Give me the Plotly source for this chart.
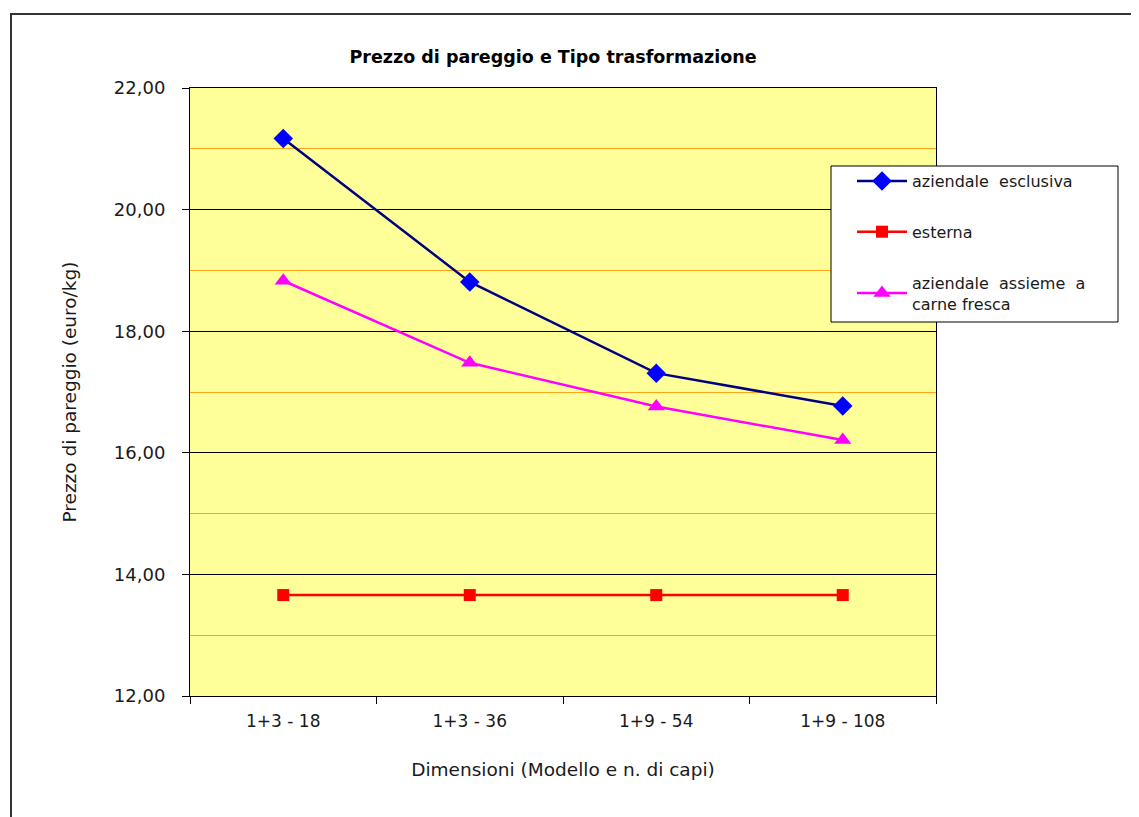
import plotly.graph_objects as go

categories = ["1+3 - 18", "1+3 - 36", "1+9 - 54", "1+9 - 108"]
aziendale_esclusiva = [21.17, 18.81, 17.31, 16.77]
esterna = [13.66, 13.66, 13.66, 13.66]
aziendale_carne_fresca = [18.83, 17.48, 16.76, 16.21]

# page is offset by the default 8px body margin
OFF = 8
W, H = 1139 - OFF, 817 - OFF
L, R, T, B = 190, 936, 88, 696          # page coords of plot area
pw, ph = R - L, B - T

def px(x):
    return (x - L) / pw

def py(y):
    return (B - y) / ph

FONT = "DejaVu Sans, Verdana, sans-serif"
TXT = "#1a1a1a"

fig = go.Figure()
fig.add_trace(go.Scatter(
    x=categories, y=aziendale_esclusiva, mode="lines+markers",
    name="aziendale\u00a0\u00a0esclusiva", legendgroup="a",
    line=dict(color="#000080", width=2.5),
    marker=dict(symbol="diamond", size=15, color="#0000FF"),
))
fig.add_trace(go.Scatter(
    x=categories, y=esterna, mode="lines+markers",
    name="esterna", legendgroup="b",
    line=dict(color="#FF0000", width=2.5),
    marker=dict(symbol="square", size=12, color="#FF0000"),
))
fig.add_trace(go.Scatter(
    x=categories, y=aziendale_carne_fresca, mode="lines+markers",
    name="aziendale\u00a0\u00a0assieme\u00a0\u00a0a<br>carne fresca", legendgroup="c",
    line=dict(color="#FF00FF", width=2.5),
    marker=dict(symbol="triangle-up", size=15, color="#FF00FF"),
))

fig.update_layout(
    width=W, height=H,
    margin=dict(l=L - OFF, r=W - (R - OFF), t=T - OFF, b=H - (B - OFF), autoexpand=False),
    paper_bgcolor="white", plot_bgcolor="#FFFF99",
    font=dict(family=FONT, size=17, color=TXT),
    separators=",.",
    title=dict(text="<b>Prezzo di pareggio e Tipo trasformazione</b>",
               x=px(553), xanchor="center", xref="paper",
               y=1 - (57 - OFF) / H, yanchor="middle",
               font=dict(family=FONT, size=17.5, color="black")),
    showlegend=True,
    legend=dict(x=px(852), y=py(164), xanchor="left", yanchor="top",
                bgcolor="rgba(0,0,0,0)", borderwidth=0,
                font=dict(family=FONT, size=16, color=TXT),
                traceorder="grouped", tracegroupgap=27, itemwidth=50),
    xaxis=dict(
        type="category", tickson="boundaries", ticks="outside", ticklen=7,
        tickcolor="black", showgrid=False, showline=True, linecolor="black",
        linewidth=1, mirror=True, range=[-0.5, 3.5], ticklabelstandoff=10,
        title=dict(text="Dimensioni (Modello e n. di capi)", standoff=32,
                   font=dict(family=FONT, size=18.5, color=TXT)),
        tickfont=dict(family=FONT, size=17, color=TXT),
    ),
    yaxis=dict(
        range=[12, 22], dtick=2, tick0=12, tickformat=".2f",
        ticks="outside", ticklen=7, tickcolor="black", ticklabelstandoff=13,
        showline=True, linecolor="black", linewidth=1, mirror=True,
        showgrid=True, gridcolor="black", gridwidth=1, zeroline=False,
        minor=dict(dtick=1, tick0=12, showgrid=True, gridcolor="#FFA31A",
                   gridwidth=1.2, ticks=""),
        title=dict(text="Prezzo di pareggio (euro/kg)", standoff=32,
                   font=dict(family=FONT, size=18.5, color=TXT)),
        tickfont=dict(family=FONT, size=18, color=TXT),
    ),
    shapes=[
        # outer chart frame
        dict(type="rect", xref="paper", yref="paper",
             x0=px(11), y0=py(H + 40), x1=px(W + 40), y1=py(14),
             line=dict(color="#333333", width=2), fillcolor="rgba(0,0,0,0)",
             layer="below"),
        # legend box
        dict(type="rect", xref="paper", yref="paper",
             x0=px(831), y0=py(322), x1=px(1118), y1=py(166),
             line=dict(color="black", width=1), fillcolor="white",
             layer="above"),
    ],
)

fig.write_html("out.html")
